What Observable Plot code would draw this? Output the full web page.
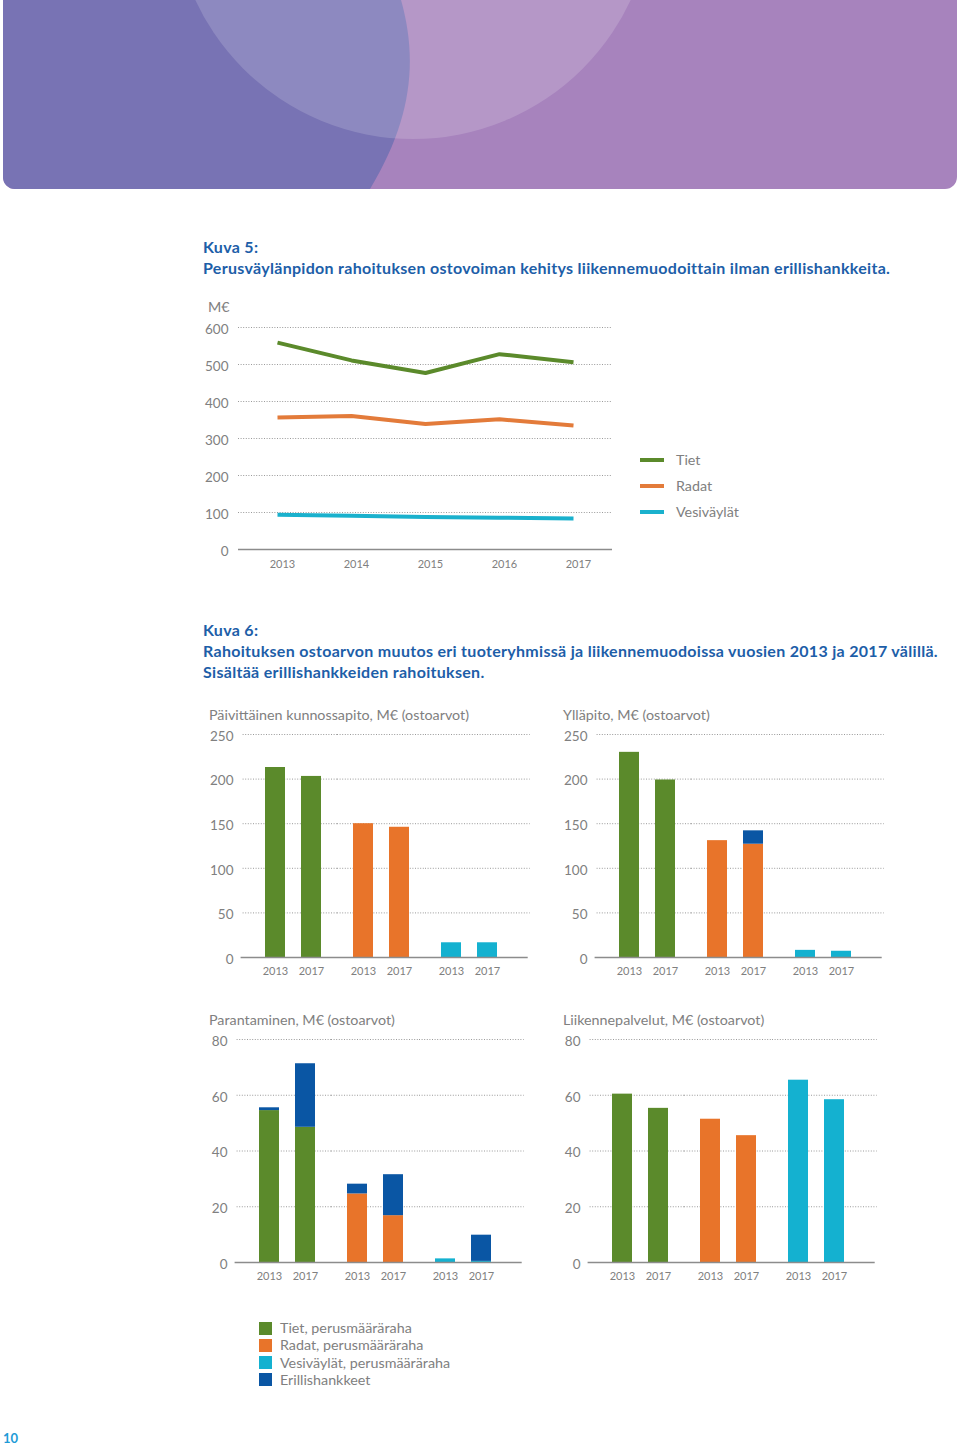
<!DOCTYPE html>
<html>
<head>
<meta charset="utf-8">
<script src="https://cdn.jsdelivr.net/npm/d3@7"></script>
<script src="https://cdn.jsdelivr.net/npm/@observablehq/plot@0.6"></script>
<style>
  body { margin: 0; background: #fff; }
  #page { position: relative; width: 960px; height: 1449px; background: #fff; font-family: Lato, "Open Sans", sans-serif; overflow: hidden; }
  .abs { position: absolute; white-space: nowrap; }
  .ttl { color: #1d5ea8; font-weight: 700; font-size: 16px; letter-spacing: 0.3px; line-height: 20px; }
  .gray { color: #808080; font-size: 14.3px; line-height: 20px; }
  .chart { position: absolute; }
  .chart svg { overflow: visible; }
</style>
</head>
<body>
<div id="page">
  <svg class="abs" style="left:0;top:0" width="960" height="200">
    <defs>
      <clipPath id="bannerClip"><rect x="3" y="-20" width="954" height="209" rx="12" ry="12"></rect></clipPath>
    </defs>
    <g clip-path="url(#bannerClip)">
      <rect x="0" y="-20" width="960" height="220" fill="#a783bd"></rect>
      <path d="M0,-20 L401,-20 L401,0 C418,60 412,120 370,189 L0,189 Z" fill="#7873b4"></path>
      <circle cx="413" cy="-101" r="240" fill="#ffffff" fill-opacity="0.16"></circle>
    </g>
  </svg>
</div>
<script>
// ---------- data ----------
const lineYears = ["2013", "2014", "2015", "2016", "2017"];
const lineSeries = ["Tiet", "Radat", "Vesiväylät"];
const tietLine = [559, 511, 477, 528, 506];
const radatLine = [357, 361, 339, 352, 335];
const vesiLine = [94, 91, 88, 86, 84];
const lineColors = ["#5b8a2b", "#e37b3a", "#1ab1cd"];
const lineTicks = [0, 100, 200, 300, 400, 500, 600];

const barGroups = ["Tiet", "Radat", "Vesiväylät"];
const barYears = ["2013", "2017"];
const barSeries = ["Tiet, perusmääräraha", "Radat, perusmääräraha", "Vesiväylät, perusmääräraha", "Erillishankkeet"];
const barColors = ["#5b8a2b", "#e8742a", "#14b1d0", "#0a56a4"];

const panelTitles = [
  "Päivittäinen kunnossapito, M€ (ostoarvot)",
  "Ylläpito, M€ (ostoarvot)",
  "Parantaminen, M€ (ostoarvot)",
  "Liikennepalvelut, M€ (ostoarvot)"
];
// order within each: Tiet 2013, Tiet 2017, Radat 2013, Radat 2017, Vesiväylät 2013, Vesiväylät 2017
const kunnossapitoBase = [213, 203, 150, 146, 16.5, 16.5];
const kunnossapitoExtra = [0, 0, 0, 0, 0, 0];
const yllapitoBase = [230, 199, 131, 127, 8, 7];
const yllapitoExtra = [0, 0, 0, 15, 0, 0];
const parantaminenBase = [54.5, 48.5, 24.6, 16.8, 1.3, 0.4];
const parantaminenExtra = [1, 22.8, 3.5, 14.7, 0, 9.4];
const liikenneBase = [60.4, 55.3, 51.4, 45.5, 65.4, 58.4];
const liikenneExtra = [0, 0, 0, 0, 0, 0];
const ticksLarge = [0, 50, 100, 150, 200, 250];
const ticksSmall = [0, 20, 40, 60, 80];

const titleKuva5 = ["Kuva 5:", "Perusväylänpidon rahoituksen ostovoiman kehitys liikennemuodoittain ilman erillishankkeita."];
const titleKuva6 = ["Kuva 6:", "Rahoituksen ostoarvon muutos eri tuoteryhmissä ja liikennemuodoissa vuosien 2013 ja 2017 välillä.", "Sisältää erillishankkeiden rahoituksen."];
const pageNumber = "10";

// ---------- helpers ----------
const page = document.getElementById("page");
function addText(txt, cls, x, cy, extra = "") {
  const d = document.createElement("div");
  d.className = "abs " + cls;
  d.style.left = x + "px";
  d.style.top = (cy - 10) + "px";
  if (extra) d.style.cssText += extra;
  d.textContent = txt;
  page.appendChild(d);
  return d;
}
function addChart(svg, left, top) {
  const d = document.createElement("div");
  d.className = "chart";
  d.style.left = left + "px";
  d.style.top = top + "px";
  d.appendChild(svg);
  page.appendChild(d);
}
const dotted = {stroke: "#9a9a9a", strokeWidth: 1, strokeDasharray: "1,1.6"};
const baseStyle = {fontFamily: "Lato, 'Open Sans', sans-serif", color: "#808080", background: "transparent", overflow: "visible"};

// ---------- titles ----------
addText(titleKuva5[0], "ttl", 203, 247);
addText(titleKuva5[1], "ttl", 203, 268);
addText(titleKuva6[0], "ttl", 203, 630);
addText(titleKuva6[1], "ttl", 203, 651);
addText(titleKuva6[2], "ttl", 203, 672);
addText(pageNumber, "", 3, 1438, "color:#1e9bd7;font-weight:700;font-size:13px;line-height:20px;");

// ---------- line chart ----------
const lineRows = [];
[tietLine, radatLine, vesiLine].forEach((vals, si) =>
  vals.forEach((v, i) => lineRows.push({series: lineSeries[si], year: lineYears[i], value: v})));

const lineChart = Plot.plot({
  width: 560, height: 279,
  marginLeft: 48, marginRight: 138, marginTop: 27, marginBottom: 30,
  style: baseStyle,
  x: {type: "point", domain: lineYears, padding: 0.5, label: null},
  y: {domain: [0, 600], label: null},
  color: {domain: lineSeries, range: lineColors},
  marks: [
    Plot.ruleY(lineTicks.filter(t => t > 0), dotted),
    Plot.ruleY([0], {stroke: "#8c8c8c", strokeWidth: 1.5}),
    Plot.axisY(lineTicks, {tickSize: 0, tickPadding: 10, fontSize: 13.5, dy: 2, label: null}),
    Plot.axisX({tickSize: 0, tickPadding: 11, fontSize: 11, dx: 5, label: null}),
    Plot.line(lineRows, {x: "year", y: "value", stroke: "series", z: "series", strokeWidth: 4, strokeLinecap: "butt", curve: "linear"})
  ]
});
addChart(lineChart, 190, 300);
addText("M€", "gray", 208, 307);
// line legend
lineSeries.forEach((s, i) => {
  const cy = 460 + i * 26;
  const sw = document.createElement("div");
  sw.className = "abs";
  sw.style.cssText = `left:640px;top:${cy - 2}px;width:24px;height:4px;background:${lineColors[i]};`;
  page.appendChild(sw);
  addText(s, "gray", 676, cy);
});

// ---------- bar charts ----------
function barChart(base, extra, max, ticks) {
  const rows = [];
  barGroups.forEach((g, gi) => barYears.forEach((yr, yi) => {
    rows.push({group: g, year: yr, series: barSeries[gi], value: base[gi * 2 + yi]});
    rows.push({group: g, year: yr, series: barSeries[3], value: extra[gi * 2 + yi]});
  }));
  const gridFor = g => ticks.filter(t => t > 0).map(t => ({group: g, y: t}));
  const zeroFor = g => [{group: g, y: 0}];
  const axisLine = {stroke: "#8c8c8c", strokeWidth: 1.5};
  return Plot.plot({
    width: 340, height: 262,
    marginLeft: 42, marginRight: 10, marginTop: 9, marginBottom: 30,
    style: baseStyle,
    fx: {domain: barGroups, paddingInner: 0, paddingOuter: 0.132, align: 0.275, axis: null, label: null},
    x: {domain: barYears, paddingInner: 0.443, paddingOuter: 0.42, label: null},
    y: {domain: [0, max], label: null},
    color: {domain: barSeries, range: barColors},
    marks: [
      Plot.ruleY(gridFor(barGroups[0]), {fx: "group", y: "y", insetLeft: -6.4, ...dotted}),
      Plot.ruleY(gridFor(barGroups[1]), {fx: "group", y: "y", ...dotted}),
      Plot.ruleY(gridFor(barGroups[2]), {fx: "group", y: "y", insetRight: -16.7, ...dotted}),
      Plot.barY(rows, {fx: "group", x: "year", y: "value", fill: "series"}),
      Plot.ruleY(zeroFor(barGroups[0]), {fx: "group", y: "y", insetLeft: -8.4, ...axisLine}),
      Plot.ruleY(zeroFor(barGroups[1]), {fx: "group", y: "y", ...axisLine}),
      Plot.ruleY(zeroFor(barGroups[2]), {fx: "group", y: "y", insetRight: -14.7, ...axisLine}),
      Plot.axisY(ticks, {tickSize: 0, tickPadding: 16, fontSize: 13.5, dy: 2, label: null}),
      Plot.axisX({tickSize: 0, tickPadding: 10, fontSize: 11, label: null})
    ]
  });
}
addChart(barChart(kunnossapitoBase, kunnossapitoExtra, 250, ticksLarge), 200, 725);
addChart(barChart(yllapitoBase, yllapitoExtra, 250, ticksLarge), 554, 725);
addChart(barChart(parantaminenBase, parantaminenExtra, 80, ticksSmall), 194, 1030);
addChart(barChart(liikenneBase, liikenneExtra, 80, ticksSmall), 547, 1030);
addText(panelTitles[0], "gray", 209, 715);
addText(panelTitles[1], "gray", 563, 715);
addText(panelTitles[2], "gray", 209, 1020);
addText(panelTitles[3], "gray", 563, 1020);

// ---------- bottom legend ----------
barSeries.forEach((s, i) => {
  const cy = 1328 + i * 17.3;
  const sw = document.createElement("div");
  sw.className = "abs";
  sw.style.cssText = `left:259px;top:${cy - 6.5}px;width:13px;height:13px;background:${barColors[i]};`;
  page.appendChild(sw);
  addText(s, "gray", 280, cy);
});
</script>
</body>
</html>
